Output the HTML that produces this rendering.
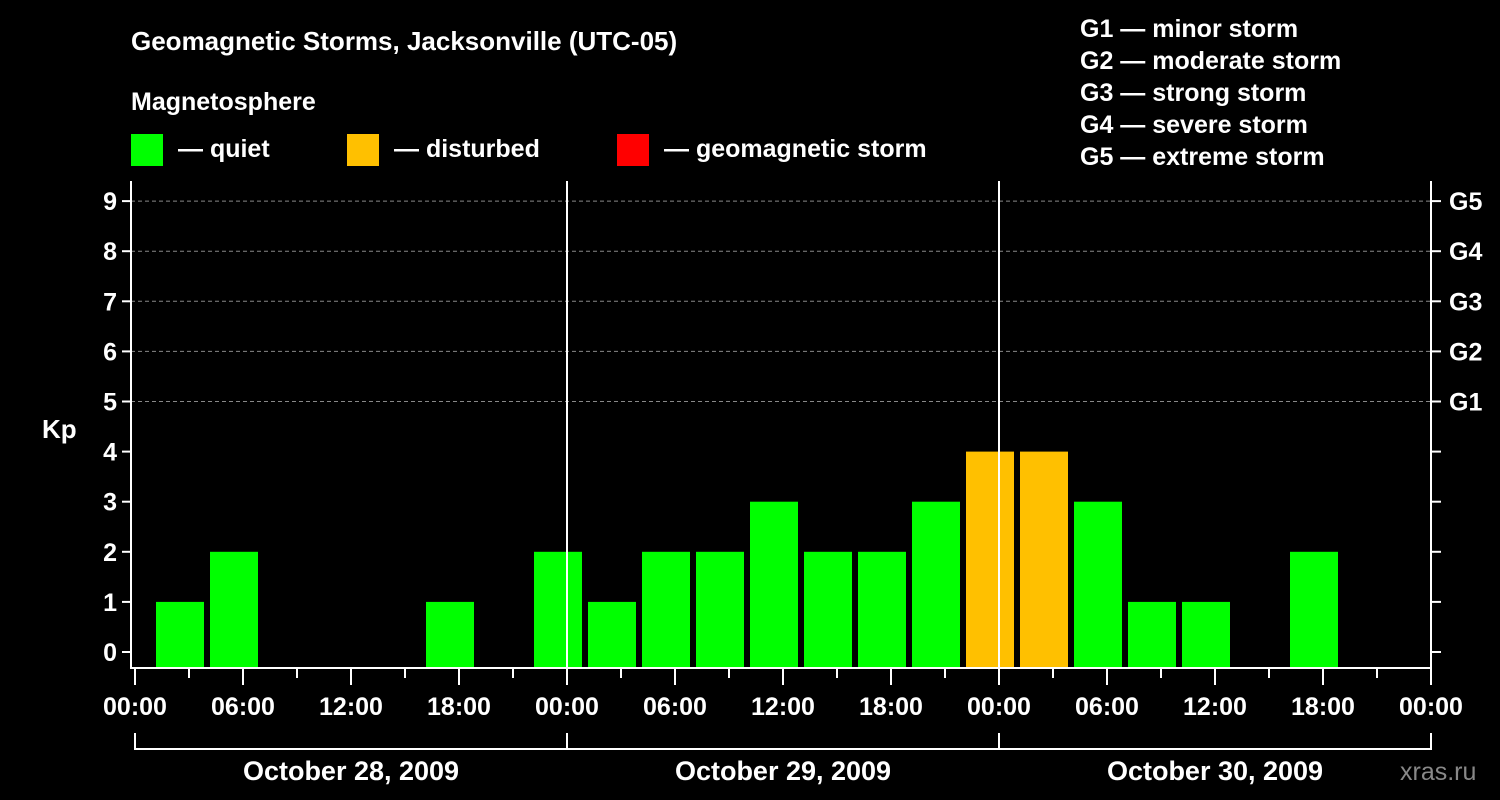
<!DOCTYPE html>
<html><head><meta charset="utf-8"><style>
html,body{margin:0;padding:0;background:#000;}
svg{display:block;font-family:"Liberation Sans",sans-serif;font-weight:bold;}
</style></head><body>
<svg id="chart" width="1500" height="800" viewBox="0 0 1500 800">
<rect width="1500" height="800" fill="#000"/>
<text x="131" y="50" fill="#fff" font-size="26">Geomagnetic Storms, Jacksonville (UTC-05)</text>
<text x="131" y="110" fill="#fff" font-size="25">Magnetosphere</text>
<g><rect x="131" y="134" width="32" height="32" fill="#00ff00"/><text x="178" y="157" fill="#fff" font-size="25">— quiet</text></g>
<g><rect x="347" y="134" width="32" height="32" fill="#ffc000"/><text x="394" y="157" fill="#fff" font-size="25">— disturbed</text></g>
<g><rect x="617" y="134" width="32" height="32" fill="#ff0000"/><text x="664" y="157" fill="#fff" font-size="25">— geomagnetic storm</text></g>
<g fill="#fff" font-size="25">
<text x="1080" y="37">G1 — minor storm</text>
<text x="1080" y="69">G2 — moderate storm</text>
<text x="1080" y="101">G3 — strong storm</text>
<text x="1080" y="133">G4 — severe storm</text>
<text x="1080" y="165">G5 — extreme storm</text>
</g>
<text x="42" y="438" fill="#fff" font-size="26">Kp</text>
<text x="1400" y="780" fill="#888" font-size="25" font-weight="normal">xras.ru</text>
<g id="plot"></g>
</svg>
<script>
const kpValues=[1,2,0,0,0,1,0,2,1,2,2,3,2,2,3,4,4,3,1,1,0,2,0];
const kpTicks=[0,1,2,3,4,5,6,7,8,9];
const gLabels=["G1","G2","G3","G4","G5"];
const timeLabels=["00:00","06:00","12:00","18:00","00:00","06:00","12:00","18:00","00:00","06:00","12:00","18:00","00:00"];
const dateLabels=["October 28, 2009","October 29, 2009","October 30, 2009"];
const NS="http://www.w3.org/2000/svg";
const g=document.getElementById('plot');
const X0=135,PXH=18,Y0=652,PXK=50.1,BOT=668,TOP=181,RIGHT=1431;
const x=h=>X0+h*PXH, y=k=>Y0-k*PXK;
function mk(t,a,txt){const e=document.createElementNS(NS,t);for(const k in a)e.setAttribute(k,a[k]);if(txt!=null)e.textContent=txt;g.appendChild(e);return e;}
kpTicks.forEach(k=>{if(k>=5){const e=mk('line',{x1:131,x2:RIGHT,y1:y(k),y2:y(k),stroke:'#888','stroke-dasharray':'4,3','stroke-width':1});

}
const t=mk('text',{x:117,y:y(k)+9,fill:'#fff','font-size':25,'text-anchor':'end'},k);


mk('line',{x1:122,x2:131,y1:y(k),y2:y(k),stroke:'#fff','stroke-width':2});
mk('line',{x1:RIGHT,x2:1441,y1:y(k),y2:y(k),stroke:'#fff','stroke-width':2});});
gLabels.forEach((s,i)=>{const t=mk('text',{x:1449,y:y(5+i)+9,fill:'#fff','font-size':25},s);

});
kpValues.forEach((v,i)=>{if(v<=0)return;const c=1+3*i+1.5;
const r=mk('rect',{x:x(c)-24,y:y(v),width:48,height:BOT-y(v),fill:v>=5?'#ff0000':(v>=4?'#ffc000':'#00ff00')});

});
[1,2].forEach(d=>mk('line',{x1:x(24*d),x2:x(24*d),y1:TOP,y2:BOT,stroke:'#fff','stroke-width':2}));
mk('line',{x1:131,x2:131,y1:TOP,y2:BOT+1,stroke:'#fff','stroke-width':2});
mk('line',{x1:RIGHT,x2:RIGHT,y1:TOP,y2:BOT+1,stroke:'#fff','stroke-width':2});
mk('line',{x1:130,x2:RIGHT+1,y1:BOT,y2:BOT,stroke:'#fff','stroke-width':2});
for(let h=0;h<=72;h+=3){mk('line',{x1:x(h),x2:x(h),y1:BOT,y2:h%6==0?685:678,stroke:'#fff','stroke-width':2});}
timeLabels.forEach((s,i)=>{const t=mk('text',{x:x(6*i),y:715,fill:'#fff','font-size':25,'text-anchor':'middle'},s);

});
mk('line',{x1:x(0),x2:x(72),y1:749,y2:749,stroke:'#fff','stroke-width':2});
for(let d=0;d<=3;d++)mk('line',{x1:x(24*d),x2:x(24*d),y1:733,y2:750,stroke:'#fff','stroke-width':2});
dateLabels.forEach((s,i)=>{const t=mk('text',{x:x(24*i+12),y:780,fill:'#fff','font-size':27,'text-anchor':'middle'},s);

});
</script>
</body></html>
